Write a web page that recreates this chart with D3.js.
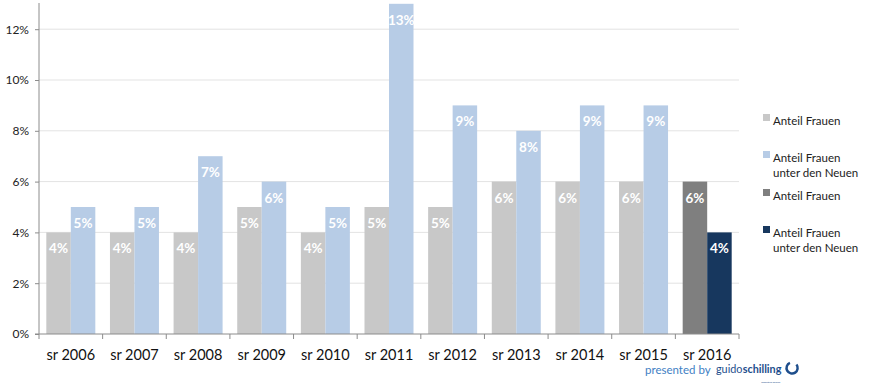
<!DOCTYPE html>
<html><head><meta charset="utf-8">
<script src="https://cdn.jsdelivr.net/npm/d3@7"></script>
<style>
body{margin:0;background:#fff;}
svg{display:block;font-family:Lato,"Open Sans",sans-serif;}
</style></head>
<body><svg id="c" width="873" height="383"></svg>
<script>
const categories = ["sr 2006","sr 2007","sr 2008","sr 2009","sr 2010","sr 2011","sr 2012","sr 2013","sr 2014","sr 2015","sr 2016"];
const anteilFrauen = [4,4,4,5,4,5,5,6,6,6,null];
const anteilNeuen  = [5,5,7,6,5,13,9,8,9,9,null];
const anteilFrauen2016 = [null,null,null,null,null,null,null,null,null,null,6];
const anteilNeuen2016  = [null,null,null,null,null,null,null,null,null,null,4];
const yTicks = [0,2,4,6,8,10,12];
const legendLabels = [["Anteil Frauen"],["Anteil Frauen","unter den Neuen"],["Anteil Frauen"],["Anteil Frauen","unter den Neuen"]];

const series = [
  {values: anteilFrauen, slot: 0, color: "#c8c8c8"},
  {values: anteilNeuen, slot: 1, color: "#b7cce6"},
  {values: anteilFrauen2016, slot: 0, color: "#7f7f7f"},
  {values: anteilNeuen2016, slot: 1, color: "#17375e"}
];

const svg = d3.select("#c");
const x = d3.scaleBand().domain(categories).range([39, 739]).paddingInner(0.23).paddingOuter(0.115);
const xs = d3.scaleBand().domain([0,1]).range([0, x.bandwidth()]);
const y = d3.scaleLinear().domain([0,13]).range([334, 3.8]);

// gridlines
svg.append("g").selectAll("line").data(yTicks.filter(d=>d>0)).join("line")
  .attr("x1", 39).attr("x2", 739).attr("y1", d=>y(d)).attr("y2", d=>y(d))
  .attr("stroke", "#e3e3e3").attr("stroke-width", 1);

// bars
series.forEach(s => {
  const data = categories.map((c,i)=>({c, v:s.values[i]})).filter(d=>d.v!=null);
  const g = svg.append("g");
  g.selectAll("rect").data(data).join("rect")
    .attr("x", d=>x(d.c)+xs(s.slot)).attr("width", xs.bandwidth())
    .attr("y", d=>y(d.v)).attr("height", d=>y(0)-y(d.v))
    .attr("fill", s.color);
  g.selectAll("text").data(data).join("text")
    .attr("x", d=>x(d.c)+xs(s.slot)+xs.bandwidth()/2)
    .attr("y", d=>y(d.v)+21)
    .attr("text-anchor","middle").attr("fill","#fff")
    .attr("font-weight","bold").attr("font-size","13.5px")
    .text(d=>d.v+"%");
});

// y axis
const ya = svg.append("g").attr("transform","translate(39,0)")
  .call(d3.axisLeft(y).tickValues(yTicks).tickFormat(d=>d+"%").tickSize(4).tickPadding(6));
ya.select(".domain").attr("stroke","#8c8c8c").attr("d","M-4,"+y(0)+"H0V3");
ya.selectAll(".tick line").attr("stroke","#8c8c8c");
ya.selectAll("text").attr("font-size","12px").attr("fill","#222").attr("font-family","Lato,'Open Sans',sans-serif");

// x axis
const xa = svg.append("g").attr("transform","translate(0,334)");
xa.append("line").attr("x1",39).attr("x2",739).attr("y1",0).attr("y2",0).attr("stroke","#8c8c8c");
const bounds = categories.map(c=>x(c)-x.step()*x.paddingInner()/2).concat([739]);
xa.selectAll("line.t").data(bounds).join("line").attr("class","t")
  .attr("x1",d=>d).attr("x2",d=>d).attr("y1",0).attr("y2",5).attr("stroke","#8c8c8c");
xa.selectAll("text").data(categories).join("text")
  .attr("x", d=>x(d)+x.bandwidth()/2).attr("y", 25.5)
  .attr("text-anchor","middle").attr("font-size","14.5px").attr("fill","#111")
  .text(d=>d);

// legend
const legendY = [[121],[158,173],[196],[233,248]];
const lg = svg.append("g");
series.forEach((s,i)=>{
  lg.append("rect").attr("x",763).attr("y",legendY[i][0]-7).attr("width",7).attr("height",7).attr("fill",s.color);
  legendLabels[i].forEach((t,j)=>{
    lg.append("text").attr("x",773).attr("y",legendY[i][j]+4).attr("font-size","11.5px").attr("fill","#222").text(t);
  });
});

// footer
const f = svg.append("g");
f.append("text").attr("x",645).attr("y",374).attr("font-size","11.5px").attr("fill","#3f7fc4").text("presented by");
const g1 = f.append("text").attr("x",716).attr("y",373).attr("font-size","10.8px").attr("fill","#1e4e8c").text("guido");
const w1 = g1.node().getComputedTextLength();
const g2 = f.append("text").attr("x",716+w1+0.3).attr("y",373).attr("font-size","10.8px").attr("font-weight","bold").attr("fill","#1e4e8c").text("schilling");
const w2 = g2.node().getComputedTextLength();
const endX = 716+w1+w2;
f.append("text").attr("x",endX-1).attr("y",382.5).attr("text-anchor","end").attr("font-size","2.6px").attr("fill","#1e4e8c").text("executive search");
const arc = d3.arc().innerRadius(4.3).outerRadius(6.8);
f.append("path").attr("transform","translate("+(endX+11)+",368)")
  .attr("d", arc({startAngle: 0.9, endAngle: 2*Math.PI-0.4})).attr("fill","#1e4e8c");
</script></body></html>
